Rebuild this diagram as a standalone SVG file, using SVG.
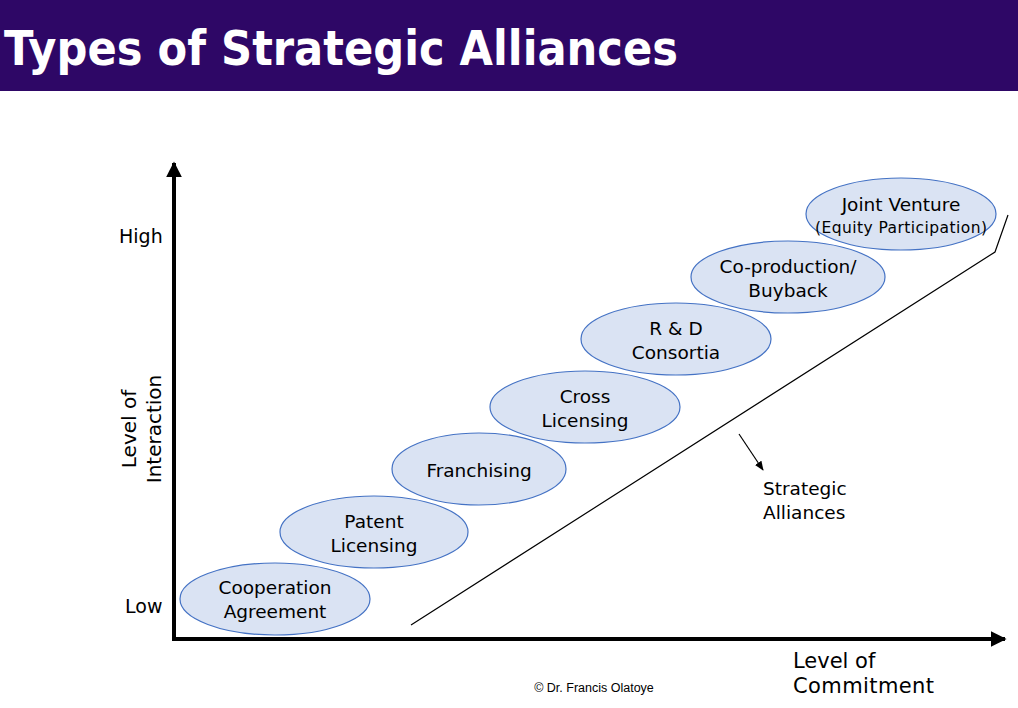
<svg xmlns="http://www.w3.org/2000/svg" width="1018" height="708" viewBox="0 0 1018 708">
<defs>
<style>
.t{font-family:"DejaVu Sans",Verdana,sans-serif;fill:#000}
.n{font-size:18.5px;text-anchor:middle}
.e{fill:#DAE3F3;stroke:#4472C4;stroke-width:1.2}
</style>
<marker id="ah" viewBox="0 0 10 10" refX="9" refY="5" markerWidth="4" markerHeight="4" orient="auto" markerUnits="strokeWidth"><path d="M0,0L10,5L0,10z" fill="#000"/></marker>
<marker id="sa" viewBox="0 0 10 10" refX="9" refY="5" markerWidth="8" markerHeight="8" orient="auto" markerUnits="strokeWidth"><path d="M0,1L10,5L0,9z" fill="#000"/></marker>
</defs>
<rect width="1018" height="708" fill="#fff"/>
<rect x="0" y="0" width="1018" height="91" fill="#2E0766"/>
<text x="4" y="65" font-family="DejaVu Sans,Verdana,sans-serif" font-weight="bold" font-size="48" fill="#fff" textLength="674" lengthAdjust="spacingAndGlyphs">Types of Strategic Alliances</text>
<g id="connectors">
<line x1="174" y1="641" x2="174" y2="163" stroke="#000" stroke-width="4" marker-end="url(#ah)"/>
<line x1="172" y1="639" x2="1005" y2="639" stroke="#000" stroke-width="4" marker-end="url(#ah)"/>
<polyline points="411,625 995,252 1008,215" fill="none" stroke="#000" stroke-width="1.2"/>
<line x1="739" y1="434" x2="763" y2="470" stroke="#000" stroke-width="1.2" marker-end="url(#sa)"/>
</g>
<g id="axis-labels">
<text class="t" x="119" y="243" font-size="19">High</text>
<text class="t" x="125" y="613" font-size="19">Low</text>
<text class="t" transform="translate(136,429) rotate(-90)" font-size="20" text-anchor="middle">Level of</text>
<text class="t" transform="translate(161,429) rotate(-90)" font-size="20" text-anchor="middle">Interaction</text>
<text class="t" x="793" y="668" font-size="21">Level of</text>
<text class="t" x="793" y="693" font-size="21" textLength="141">Commitment</text>
<text class="t" x="763" y="495" font-size="18.5">Strategic</text>
<text class="t" x="763" y="519" font-size="18.5">Alliances</text>
<text x="594" y="692" font-family="Liberation Sans,Arial,sans-serif" font-size="12.5" text-anchor="middle" fill="#000">© Dr. Francis Olatoye</text>
</g>
<g id="cooperation">
<ellipse class="e" cx="275" cy="599" rx="95" ry="36"/>
<text class="t n" x="275" y="594">Cooperation</text>
<text class="t n" x="275" y="618">Agreement</text>
</g>
<g id="patent">
<ellipse class="e" cx="374" cy="532" rx="94" ry="36"/>
<text class="t n" x="374" y="528">Patent</text>
<text class="t n" x="374" y="552">Licensing</text>
</g>
<g id="franchising">
<ellipse class="e" cx="479" cy="469" rx="87" ry="36"/>
<text class="t n" x="479" y="477">Franchising</text>
</g>
<g id="cross">
<ellipse class="e" cx="585" cy="407" rx="95" ry="36"/>
<text class="t n" x="585" y="403">Cross</text>
<text class="t n" x="585" y="427">Licensing</text>
</g>
<g id="rd">
<ellipse class="e" cx="676" cy="339" rx="95" ry="36"/>
<text class="t n" x="676" y="335">R &amp; D</text>
<text class="t n" x="676" y="359">Consortia</text>
</g>
<g id="coproduction">
<ellipse class="e" cx="788" cy="277" rx="97" ry="36"/>
<text class="t n" x="788" y="273">Co-production/</text>
<text class="t n" x="788" y="297">Buyback</text>
</g>
<g id="joint">
<ellipse class="e" cx="901" cy="214" rx="95" ry="36"/>
<text class="t n" x="901" y="211">Joint Venture</text>
<text class="t" x="815" y="233" font-size="15.5" textLength="172" lengthAdjust="spacing">(Equity Participation)</text>
</g>
</svg>
